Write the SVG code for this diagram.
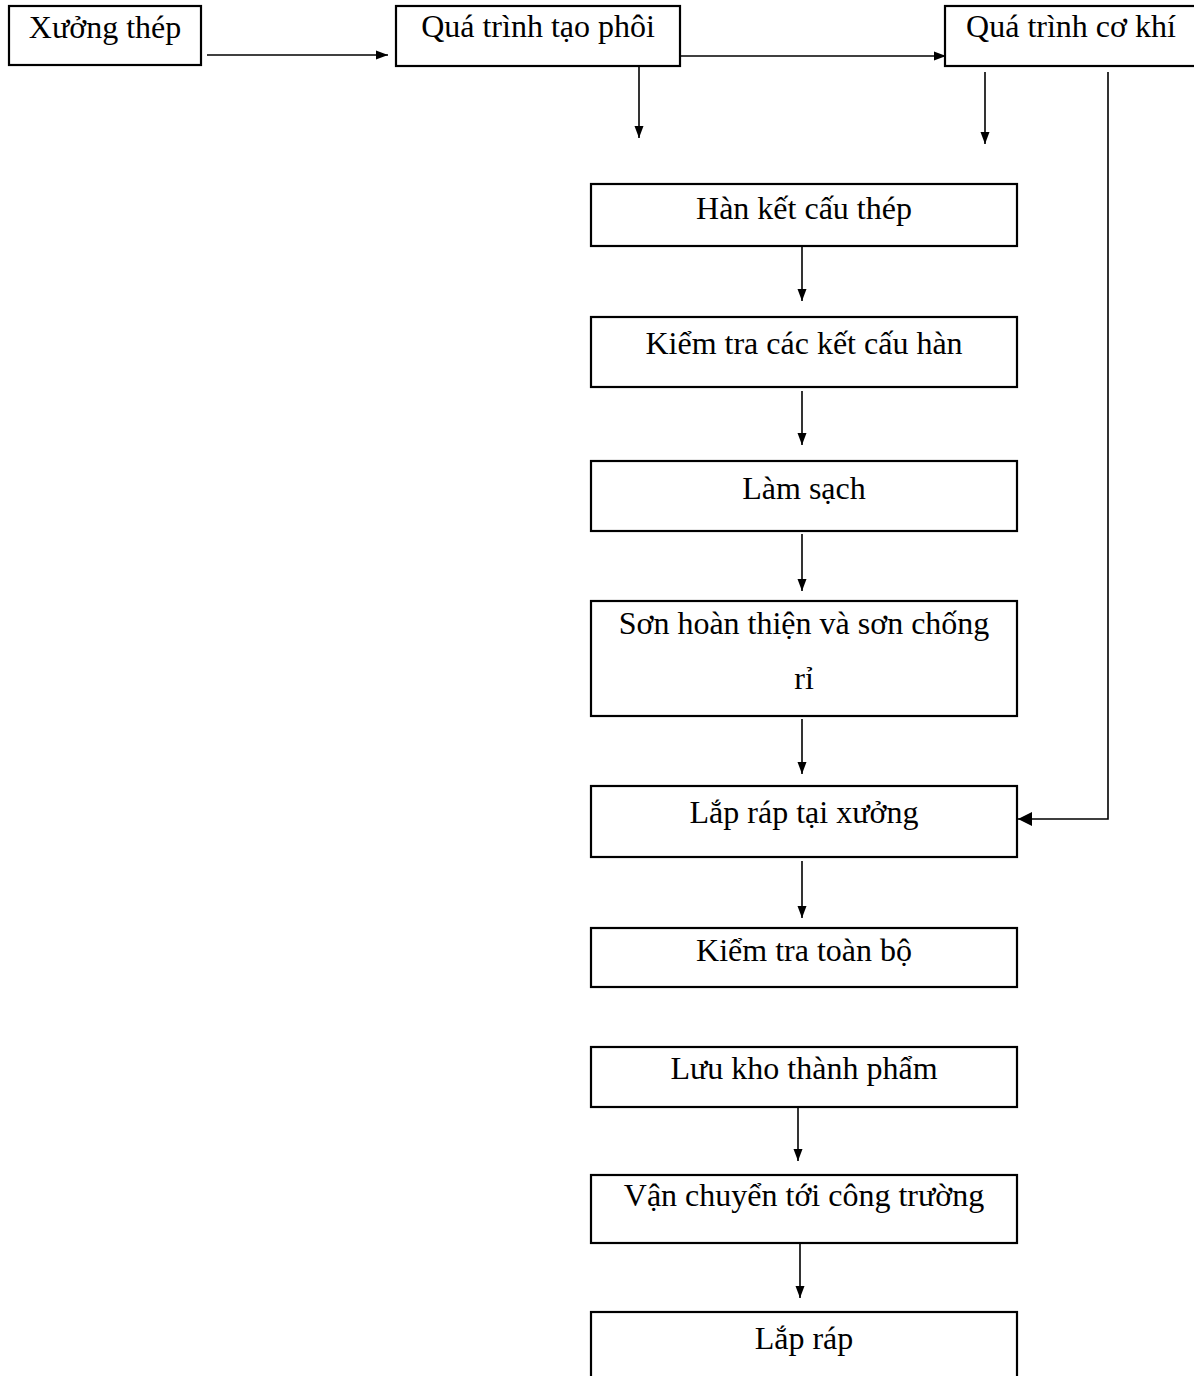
<svg xmlns="http://www.w3.org/2000/svg" width="1194" height="1376" viewBox="0 0 1194 1376">
<style>
.box{fill:#fff;stroke:#000;stroke-width:2.2}
.t{font-family:"Liberation Serif","Times New Roman",serif;font-size:32px;fill:#000;text-anchor:middle}
.c{fill:none;stroke:#000;stroke-width:1.6}
</style>
<defs>
<marker id="ah" markerUnits="userSpaceOnUse" markerWidth="13" markerHeight="10" refX="12" refY="5" orient="auto">
<path d="M0,0.5 L12,5 L0,9.5 Z" fill="#000"/>
</marker>
<marker id="ahb" markerUnits="userSpaceOnUse" markerWidth="15" markerHeight="16" refX="14" refY="8" orient="auto">
<path d="M0,1 L14,8 L0,15 Z" fill="#000"/>
</marker>
</defs>
<rect width="1194" height="1376" fill="#fff"/>
<g id="connectors">
<line class="c" x1="207" y1="55" x2="388" y2="55" marker-end="url(#ah)"/>
<line class="c" x1="675" y1="56" x2="946" y2="56" marker-end="url(#ah)"/>
<line class="c" x1="639" y1="67" x2="639" y2="138" marker-end="url(#ah)"/>
<line class="c" x1="985" y1="72" x2="985" y2="144" marker-end="url(#ah)"/>
<polyline class="c" points="1108,72 1108,819 1018,819" marker-end="url(#ahb)"/>
<line class="c" x1="802" y1="247" x2="802" y2="301" marker-end="url(#ah)"/>
<line class="c" x1="802" y1="391" x2="802" y2="445" marker-end="url(#ah)"/>
<line class="c" x1="802" y1="534" x2="802" y2="591" marker-end="url(#ah)"/>
<line class="c" x1="802" y1="719" x2="802" y2="774" marker-end="url(#ah)"/>
<line class="c" x1="802" y1="861" x2="802" y2="918" marker-end="url(#ah)"/>
<line class="c" x1="798" y1="1108" x2="798" y2="1161" marker-end="url(#ah)"/>
<line class="c" x1="800" y1="1244" x2="800" y2="1298" marker-end="url(#ah)"/>
</g>
<g id="n-xuong-thep"><rect class="box" x="9" y="6" width="192" height="59"/><text class="t" x="105" y="38">Xưởng thép</text></g>
<g id="n-tao-phoi"><rect class="box" x="396" y="6" width="284" height="60"/><text class="t" x="538" y="37">Quá trình tạo phôi</text></g>
<g id="n-co-khi"><rect class="box" x="945" y="6" width="260" height="60"/><text class="t" x="1071" y="37">Quá trình cơ khí</text></g>
<g id="n-han"><rect class="box" x="591" y="184" width="426" height="62"/><text class="t" x="804" y="219">Hàn kết cấu thép</text></g>
<g id="n-kiemtra-han"><rect class="box" x="591" y="317" width="426" height="70"/><text class="t" x="804" y="354">Kiểm tra các kết cấu hàn</text></g>
<g id="n-lam-sach"><rect class="box" x="591" y="461" width="426" height="70"/><text class="t" x="804" y="499">Làm sạch</text></g>
<g id="n-son"><rect class="box" x="591" y="601" width="426" height="115"/><text class="t" x="804" y="634">Sơn hoàn thiện và sơn chống</text><text class="t" x="804" y="689">rỉ</text></g>
<g id="n-lap-xuong"><rect class="box" x="591" y="786" width="426" height="71"/><text class="t" x="804" y="823">Lắp ráp tại xưởng</text></g>
<g id="n-kiemtra-toanbo"><rect class="box" x="591" y="928" width="426" height="59"/><text class="t" x="804" y="961">Kiểm tra toàn bộ</text></g>
<g id="n-luu-kho"><rect class="box" x="591" y="1047" width="426" height="60"/><text class="t" x="804" y="1079">Lưu kho thành phẩm</text></g>
<g id="n-van-chuyen"><rect class="box" x="591" y="1175" width="426" height="68"/><text class="t" x="804" y="1206">Vận chuyển tới công trường</text></g>
<g id="n-lap-rap"><rect class="box" x="591" y="1312" width="426" height="80"/><text class="t" x="804" y="1349">Lắp ráp</text></g>
</svg>
